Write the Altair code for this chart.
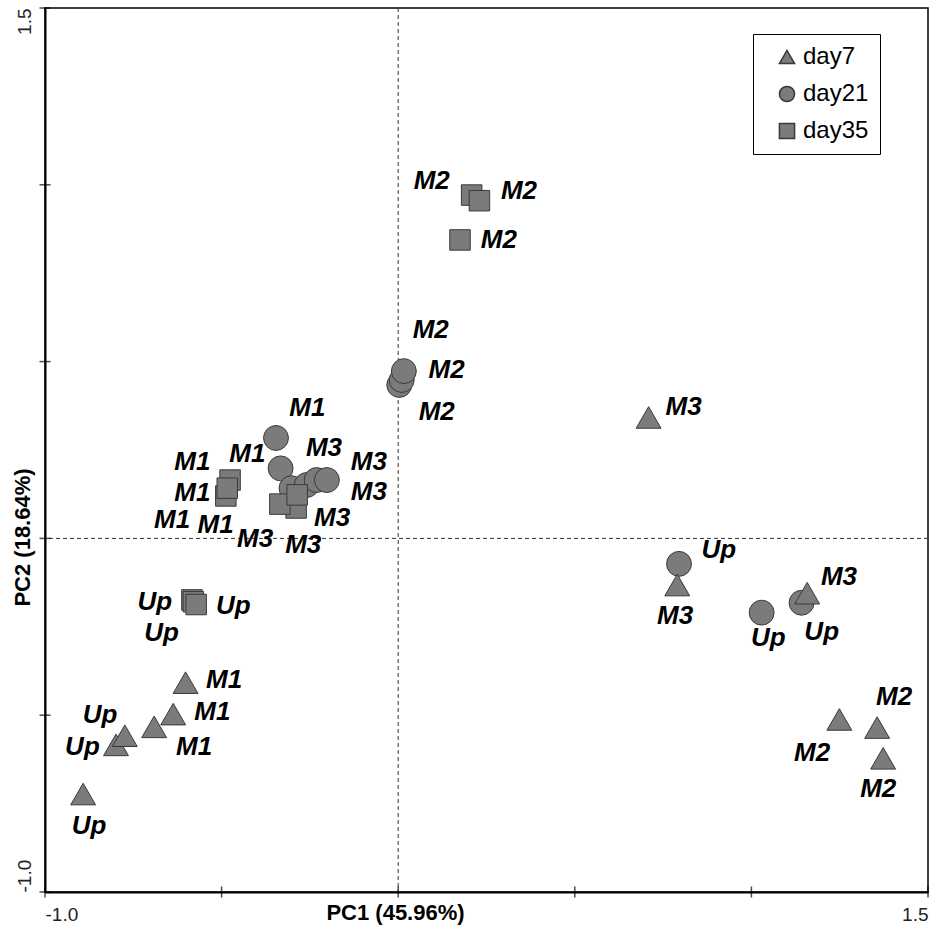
import altair as alt
import pandas as pd

# Sampling days and shapes
days = ["day7", "day21", "day35"]
day_shapes = ["triangle-up", "circle", "square"]

# Axis ticks, end labels and titles
tick_values = [-1.0, -0.5, 0.0, 0.5, 1.0, 1.5]
label_values = [-1.0, 1.5]
pc1_title = "PC1 (45.96%)"
pc2_title = "PC2 (18.64%)"

# Day 7 scores and label anchors
day7_site = ["Up", "Up", "Up", "M1", "M1", "M1", "M2", "M2", "M2", "M3", "M3", "M3"]
day7_pc1 = [-0.892, -0.799, -0.774, -0.691, -0.637, -0.602, 1.249, 1.356, 1.373, 0.709, 0.790, 1.158]
day7_pc2 = [-0.723, -0.584, -0.558, -0.533, -0.497, -0.408, -0.512, -0.535, -0.622, 0.342, -0.132, -0.155]
day7_lab_x = [-0.875, -0.894, -0.844, -0.578, -0.526, -0.493, 1.172, 1.404, 1.359, 0.808, 0.784, 1.248]
day7_lab_y = [-0.813, -0.589, -0.499, -0.589, -0.490, -0.400, -0.606, -0.448, -0.709, 0.371, -0.219, -0.110]

# Day 21 scores and label anchors
day21_site = ["Up", "Up", "Up", "M2", "M2", "M2", "M1", "M1", "M1", "M3", "M3", "M3"]
day21_pc1 = [0.795, 1.029, 1.142, 0.003, 0.010, 0.016, -0.346, -0.333, -0.302, -0.259, -0.231, -0.202]
day21_pc2 = [-0.072, -0.210, -0.182, 0.434, 0.448, 0.473, 0.284, 0.198, 0.142, 0.151, 0.165, 0.165]
day21_lab_x = [0.908, 1.048, 1.199, 0.109, 0.137, 0.092, -0.257, -0.427, -0.517, -0.210, -0.083, -0.083]
day21_lab_y = [-0.033, -0.283, -0.266, 0.358, 0.476, 0.589, 0.368, 0.239, 0.038, 0.255, 0.217, 0.132]

# Day 35 scores and label anchors
day35_site = ["Up", "Up", "Up", "M1", "M1", "M1", "M2", "M2", "M2", "M3", "M3", "M3"]
day35_pc1 = [-0.584, -0.580, -0.572, -0.488, -0.476, -0.484, 0.208, 0.230, 0.175, -0.289, -0.335, -0.286]
day35_pc2 = [-0.174, -0.179, -0.187, 0.120, 0.165, 0.142, 0.971, 0.955, 0.844, 0.086, 0.097, 0.123]
day35_lab_x = [-0.689, -0.467, -0.670, -0.640, -0.583, -0.583, 0.095, 0.342, 0.285, -0.187, -0.405, -0.269]
day35_lab_y = [-0.179, -0.190, -0.268, 0.052, 0.217, 0.128, 1.012, 0.983, 0.844, 0.057, -0.003, -0.019]


def frame(day, site, pc1, pc2, lab_x, lab_y):
    return pd.DataFrame({"day": day, "site": site, "pc1": pc1, "pc2": pc2,
                         "lab_x": lab_x, "lab_y": lab_y})


# circles underneath, then squares, then triangles
scores = pd.concat([
    frame("day21", day21_site, day21_pc1, day21_pc2, day21_lab_x, day21_lab_y),
    frame("day35", day35_site, day35_pc1, day35_pc2, day35_lab_x, day35_lab_y),
    frame("day7", day7_site, day7_pc1, day7_pc2, day7_lab_x, day7_lab_y),
], ignore_index=True)
scores["draw"] = range(len(scores))
scores["marker"] = scores["day"]

ticks = pd.DataFrame({"v": tick_values})
origin = pd.DataFrame({"v": [0.0]})

FONT = "Liberation Sans"
x_scale = alt.Scale(domain=[-1.0, 1.5], nice=False, zero=False)
y_scale = alt.Scale(domain=[-1.0, 1.5], nice=False, zero=False)

x_axis = alt.Axis(
    values=label_values, ticks=False, tickSize=0, grid=False,
    domainColor="black", domainWidth=2,
    labelFont=FONT, labelFontSize=19, labelColor="#222222", labelPadding=13,
    labelFlush=True,
    labelExpr="replace(format(datum.value, '.1f'), '\u2212', '-')",
    title=pc1_title, titleFont=FONT, titleFontSize=22, titleFontWeight="bold",
    titleColor="black", titleX=350, titleY=27, titleAlign="center",
    titleBaseline="alphabetic",
)
y_axis = alt.Axis(
    values=label_values, ticks=False, tickSize=0, grid=False,
    domainColor="black", domainWidth=2,
    labelFont=FONT, labelFontSize=19, labelColor="#222222", labelPadding=15,
    labelAngle=270, labelBaseline="alphabetic", labelFlush=False,
    labelAlign={"expr": "datum.value < 0 ? 'left' : 'right'"},
    labelExpr="replace(format(datum.value, '.1f'), '\u2212', '-')",
    title=pc2_title, titleFont=FONT, titleFontSize=22, titleFontWeight="bold",
    titleColor="black", titleAngle=270, titleX=-16, titleY=529,
    titleAlign="center", titleBaseline="alphabetic",
)

X = lambda f: alt.X(f, type="quantitative", scale=x_scale, axis=x_axis)
Y = lambda f: alt.Y(f, type="quantitative", scale=y_scale, axis=y_axis)

# dashed reference lines through the origin
v_zero = alt.Chart(origin).mark_rule(color="#333333", strokeDash=[4, 3], strokeWidth=1).encode(x=X("v"))
h_zero = alt.Chart(origin).mark_rule(color="#333333", strokeDash=[4, 3], strokeWidth=1).encode(y=Y("v"))

# tick marks crossing the axis lines
x_ticks = alt.Chart(ticks).mark_tick(orient="vertical", size=11, thickness=1.5, color="black").encode(
    x=X("v"), y=alt.Y(datum=-1.0, scale=y_scale, axis=y_axis))
y_ticks = alt.Chart(ticks).mark_tick(orient="horizontal", size=11, thickness=1.5, color="black").encode(
    y=Y("v"), x=alt.X(datum=-1.0, scale=x_scale, axis=x_axis))

# the size scale lists the days in its own order so that its (hidden) legend
# is kept apart from the shape legend
points = alt.Chart(scores).mark_point(
    filled=True, stroke="#3a3a3a", strokeWidth=1, opacity=1
).encode(
    x=X("pc1"),
    y=Y("pc2"),
    color=alt.value("#7b7b7b"),
    shape=alt.Shape("day:N", scale=alt.Scale(domain=days, range=day_shapes),
                    legend=alt.Legend(
                        title=None, orient="none", legendX=708, legendY=26,
                        strokeColor="black", fillColor="white", padding=11,
                        labelFont=FONT, labelFontSize=24, labelColor="black",
                        labelExpr="datum.label + '\u00a0\u00a0\u00a0\u00a0\u00a0\u00a0'",
                        symbolSize=230, symbolOffset=11, labelOffset=4,
                        rowPadding=13)),
    size=alt.Size("marker:N",
                  scale=alt.Scale(type="ordinal", domain=["day21", "day35", "day7"],
                                  range=[620, 420, 620]),
                  legend=None),
    order=alt.Order("draw:Q"),
)

labels = alt.Chart(scores).mark_text(
    font=FONT, fontSize=26, fontWeight="bold", fontStyle="italic",
    color="black", align="center", baseline="middle"
).encode(x=X("lab_x"), y=Y("lab_y"), text="site:N")

chart = alt.layer(v_zero, h_zero, points, labels, x_ticks, y_ticks).properties(
    width=883, height=884,
    autosize=alt.AutoSizeParams(type="none"),
    padding={"left": 45, "top": 8, "right": 1, "bottom": 37},
    background="white",
).configure_view(stroke="black", strokeWidth=1.5)

chart.save("out.html", embed_options={"renderer": "svg", "actions": False})
